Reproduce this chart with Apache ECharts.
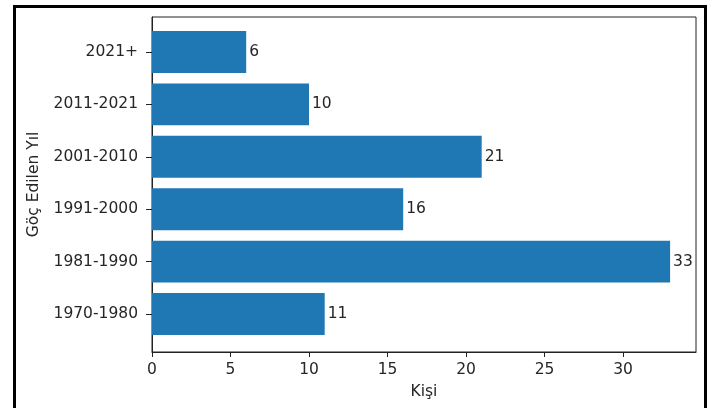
<!DOCTYPE html>
<html>
<head>
<meta charset="utf-8">
<script src="https://cdn.jsdelivr.net/npm/echarts@6/dist/echarts.min.js"></script>
<style>
html,body{margin:0;padding:0;background:#fff;}
#chart{width:726px;height:408px;}
</style>
</head>
<body>
<div id="chart"></div>
<script>
const categories = ['1970-1980', '1981-1990', '1991-2000', '2001-2010', '2011-2021', '2021+'];
const values = [11, 33, 16, 21, 10, 6];
const xTicks = [0, 5, 10, 15, 20, 25, 30];
const xMax = 34.65;

const font = 'DejaVu Sans';
const textColor = '#262626';
const fs = 15.5;

const chart = echarts.init(document.getElementById('chart'));
chart.setOption({
  animation: false,
  backgroundColor: '#fff',
  textStyle: { fontFamily: font },
  graphic: [{
    type: 'rect',
    shape: { x: 14.5, y: 6.5, width: 691, height: 430 },
    style: { fill: 'none', stroke: '#000', lineWidth: 3 },
    silent: true
  }],
  grid: [
    { left: 152, right: 30, top: 25.8, bottom: 67.8 },
    { left: 152, right: 30, top: 17, bottom: 56, show: true, borderColor: '#222', borderWidth: 1, backgroundColor: 'transparent' }
  ],
  xAxis: [
    { gridIndex: 0, type: 'value', min: 0, max: xMax, show: false },
    {
      gridIndex: 1, type: 'value', min: 0, max: xMax,
      name: 'Kişi', nameLocation: 'middle', nameGap: 32,
      nameTextStyle: { fontSize: fs, color: textColor, fontFamily: font },
      axisLine: { show: true, lineStyle: { color: '#222', width: 1 } },
      axisTick: { show: true, length: 5, lineStyle: { color: '#222' }, customValues: xTicks },
      axisLabel: { fontSize: fs, color: textColor, margin: 10, fontFamily: font, customValues: xTicks },
      splitLine: { show: false }
    }
  ],
  yAxis: [
    {
      gridIndex: 0, type: 'category', data: categories, boundaryGap: true,
      axisLine: { show: false },
      axisTick: { show: true, alignWithLabel: true, length: 6, lineStyle: { color: '#222' } },
      axisLabel: { fontSize: fs, color: textColor, margin: 14, fontFamily: font },
      splitLine: { show: false }
    },
    {
      gridIndex: 1, type: 'value', min: 0, max: 1,
      name: 'Göç Edilen Yıl', nameLocation: 'middle', nameGap: 110,
      nameTextStyle: { fontSize: fs, color: textColor, fontFamily: font },
      axisLine: { show: true, lineStyle: { color: '#222', width: 1 } },
      axisTick: { show: false },
      axisLabel: { show: false },
      splitLine: { show: false }
    }
  ],
  series: [{
    type: 'bar',
    xAxisIndex: 0,
    yAxisIndex: 0,
    data: values,
    barWidth: '80%',
    itemStyle: { color: '#1f77b4' },
    label: {
      show: true, position: 'right', distance: 3,
      fontSize: fs, color: textColor, fontFamily: font
    }
  }]
});
</script>
</body>
</html>
